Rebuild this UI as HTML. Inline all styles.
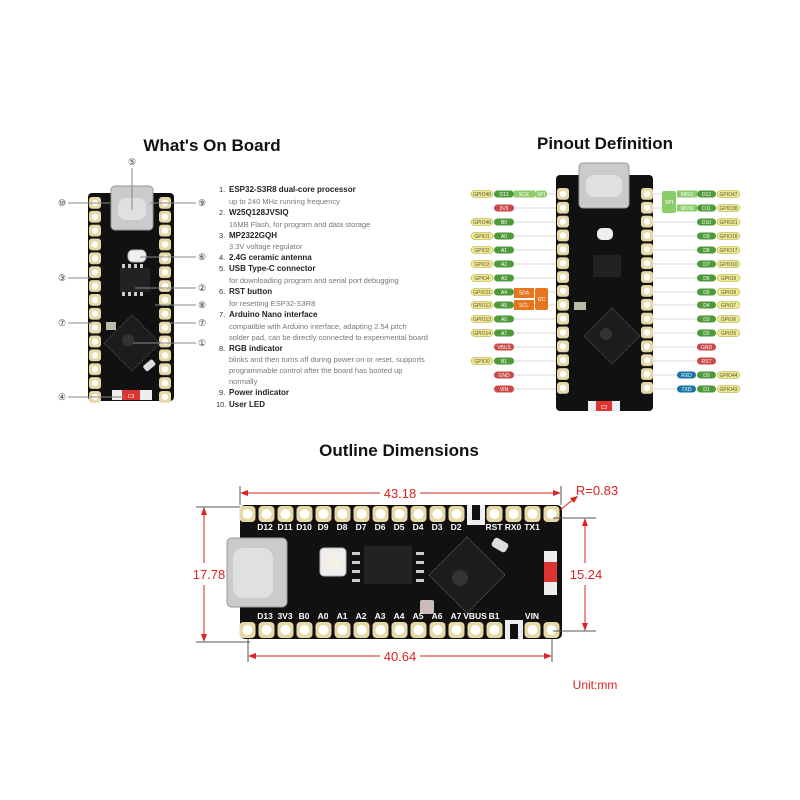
<!DOCTYPE html>
<html><head><meta charset="utf-8"><style>
html,body{margin:0;padding:0;background:#fff}
svg{display:block}
text{font-family:"Liberation Sans",sans-serif}
.t{font-size:17px;font-weight:bold;fill:#111;text-anchor:middle}
.l{font-size:7.5px;fill:#333}
.lb{font-size:8px;fill:#222;font-weight:bold}
.ls{font-size:7.5px;fill:#777}
.c{font-size:9px;fill:#333;text-anchor:middle}
.g{font-size:5px;fill:#555;text-anchor:middle}
.w{font-size:5px;fill:#fff;text-anchor:middle}
.dim{font-size:13px;fill:#d22;text-anchor:middle}
</style></head><body>
<svg width="800" height="800" viewBox="0 0 800 800" xmlns="http://www.w3.org/2000/svg">
<defs>
<pattern id="pv" x="88" y="196" width="14" height="13.86" patternUnits="userSpaceOnUse">
<rect x="1" y="1" width="12" height="11.8" rx="3" fill="#e6d9a6"/><circle cx="7" cy="6.9" r="3.2" fill="#fff"/></pattern>
<pattern id="pv2" x="556" y="187" width="14" height="13.86" patternUnits="userSpaceOnUse">
<rect x="1" y="1" width="12" height="11.8" rx="3" fill="#e6d9a6"/><circle cx="7" cy="6.9" r="3.2" fill="#fff"/></pattern>
<pattern id="ph" x="238" y="505" width="19" height="18" patternUnits="userSpaceOnUse">
<rect x="1.5" y="1" width="16" height="16" rx="4" fill="#e6d9a6"/><circle cx="9.5" cy="9" r="5" fill="#fff"/></pattern>
<pattern id="ph2" x="238" y="621" width="19" height="18" patternUnits="userSpaceOnUse">
<rect x="1.5" y="1" width="16" height="16" rx="4" fill="#e6d9a6"/><circle cx="9.5" cy="9" r="5" fill="#fff"/></pattern>
</defs>

<text class="t" x="212" y="151">What's On Board</text>
<text class="t" x="605" y="149">Pinout Definition</text>
<text class="t" x="399" y="456">Outline Dimensions</text>

<!-- Board 1 -->
<rect x="88" y="193" width="86" height="208" rx="4" fill="#111"/>
<rect x="88" y="196" width="14" height="208" fill="url(#pv)"/>
<rect x="158" y="196" width="14" height="208" fill="url(#pv)"/>
<rect x="111" y="186" width="42" height="44" rx="4" fill="#c9cbcd" stroke="#999"/>
<rect x="118" y="198" width="28" height="22" rx="8" fill="#dfe0e2"/>
<rect x="128" y="250" width="18" height="12" rx="5" fill="#eee" stroke="#bbb"/>
<rect x="120" y="268" width="30" height="24" fill="#222"/>
<g fill="#ccc"><rect x="122" y="264" width="3" height="4"/><rect x="128" y="264" width="3" height="4"/><rect x="134" y="264" width="3" height="4"/><rect x="140" y="264" width="3" height="4"/><rect x="122" y="292" width="3" height="4"/><rect x="128" y="292" width="3" height="4"/><rect x="134" y="292" width="3" height="4"/><rect x="140" y="292" width="3" height="4"/></g>
<rect x="106" y="322" width="10" height="8" fill="#bba" />
<polygon points="132,315 160,343 132,371 104,343" fill="#1c1c1c" stroke="#555" stroke-dasharray="1 1"/>
<circle cx="128" cy="340" r="6" fill="#333"/>
<rect x="143" y="362" width="12" height="7" rx="2" fill="#ddd" transform="rotate(-40 149 365)"/>
<rect x="112" y="390" width="40" height="10" fill="#eee"/>
<rect x="122" y="390" width="18" height="10" fill="#d33"/>
<text x="131" y="398" class="w" font-size="7">C3</text>
<g stroke="#888" stroke-width="1" fill="none">
<line x1="68" y1="203" x2="110" y2="203"/><line x1="68" y1="278" x2="90" y2="278"/><line x1="68" y1="323" x2="92" y2="323"/><line x1="68" y1="397" x2="125" y2="397"/>
<line x1="132" y1="168" x2="132" y2="210"/>
<line x1="150" y1="203" x2="196" y2="203"/><line x1="140" y1="257" x2="196" y2="257"/><line x1="135" y1="288" x2="196" y2="288"/><line x1="155" y1="305" x2="196" y2="305"/><line x1="170" y1="323" x2="196" y2="323"/><line x1="133" y1="343" x2="196" y2="343"/>
</g>
<g class="c">
<text x="62" y="206">⑩</text><text x="62" y="281">③</text><text x="62" y="326">⑦</text><text x="62" y="400">④</text>
<text x="132" y="165">⑤</text>
<text x="202" y="206">⑨</text><text x="202" y="260">⑥</text><text x="202" y="291">②</text><text x="202" y="308">⑧</text><text x="202" y="326">⑦</text><text x="202" y="346">①</text>
</g>
<g>
<text class="l" x="219" y="192">1.</text><text class="lb" x="229" y="192">ESP32-S3R8 dual-core processor</text>
<text class="ls" x="229" y="204">up to 240 MHz running frequency</text>
<text class="l" x="219" y="215">2.</text><text class="lb" x="229" y="215">W25Q128JVSIQ</text>
<text class="ls" x="229" y="227">16MB Flash, for program and data storage</text>
<text class="l" x="219" y="238">3.</text><text class="lb" x="229" y="238">MP2322GQH</text>
<text class="ls" x="229" y="249">3.3V voltage regulator</text>
<text class="l" x="219" y="260">4.</text><text class="lb" x="229" y="260">2.4G ceramic antenna</text>
<text class="l" x="219" y="271">5.</text><text class="lb" x="229" y="271">USB Type-C connector</text>
<text class="ls" x="229" y="283">for downloading program and serial port debugging</text>
<text class="l" x="219" y="294">6.</text><text class="lb" x="229" y="294">RST button</text>
<text class="ls" x="229" y="306">for resetting ESP32-S3R8</text>
<text class="l" x="219" y="317">7.</text><text class="lb" x="229" y="317">Arduino Nano interface</text>
<text class="ls" x="229" y="329">compatible with Arduino interface, adapting 2.54 pitch</text>
<text class="ls" x="229" y="340">solder pad, can be directly connected to experimental board</text>
<text class="l" x="219" y="351">8.</text><text class="lb" x="229" y="351">RGB indicator</text>
<text class="ls" x="229" y="362">blinks and then turns off during power on or reset, supports</text>
<text class="ls" x="229" y="373">programmable control after the board has booted up</text>
<text class="ls" x="229" y="384">normally</text>
<text class="l" x="219" y="395">9.</text><text class="lb" x="229" y="395">Power indicator</text>
<text class="l" x="216" y="407">10.</text><text class="lb" x="229" y="407">User LED</text>
</g>

<!-- Board 2 -->
<g stroke="#ccc" stroke-width="0.8">
<line x1="493" y1="194" x2="557" y2="194"/><line x1="493" y1="208" x2="557" y2="208"/><line x1="493" y1="222" x2="557" y2="222"/><line x1="493" y1="236" x2="557" y2="236"/><line x1="493" y1="250" x2="557" y2="250"/><line x1="493" y1="264" x2="557" y2="264"/><line x1="493" y1="278" x2="557" y2="278"/><line x1="493" y1="292" x2="557" y2="292"/><line x1="493" y1="305" x2="557" y2="305"/><line x1="493" y1="319" x2="557" y2="319"/><line x1="493" y1="333" x2="557" y2="333"/><line x1="493" y1="347" x2="557" y2="347"/><line x1="493" y1="361" x2="557" y2="361"/><line x1="493" y1="375" x2="557" y2="375"/><line x1="493" y1="389" x2="557" y2="389"/>
<line x1="650" y1="194" x2="700" y2="194"/><line x1="650" y1="208" x2="700" y2="208"/><line x1="650" y1="222" x2="700" y2="222"/><line x1="650" y1="236" x2="700" y2="236"/><line x1="650" y1="250" x2="700" y2="250"/><line x1="650" y1="264" x2="700" y2="264"/><line x1="650" y1="278" x2="700" y2="278"/><line x1="650" y1="292" x2="700" y2="292"/><line x1="650" y1="305" x2="700" y2="305"/><line x1="650" y1="319" x2="700" y2="319"/><line x1="650" y1="333" x2="700" y2="333"/><line x1="650" y1="347" x2="700" y2="347"/><line x1="650" y1="361" x2="700" y2="361"/><line x1="650" y1="375" x2="700" y2="375"/><line x1="650" y1="389" x2="700" y2="389"/>
</g>
<rect x="556" y="175" width="97" height="236" rx="4" fill="#111"/>
<rect x="556" y="187" width="14" height="208" fill="url(#pv2)"/>
<rect x="640" y="187" width="14" height="208" fill="url(#pv2)"/>
<rect x="579" y="163" width="50" height="45" rx="4" fill="#c9cbcd" stroke="#999"/>
<rect x="586" y="175" width="36" height="22" rx="8" fill="#dfe0e2"/>
<rect x="597" y="228" width="16" height="12" rx="5" fill="#eee"/>
<rect x="593" y="255" width="28" height="22" fill="#222"/>
<polygon points="612,308 640,336 612,364 584,336" fill="#1c1c1c" stroke="#555" stroke-dasharray="1 1"/>
<circle cx="606" cy="334" r="6" fill="#333"/>
<rect x="574" y="302" width="12" height="8" fill="#bba"/>
<rect x="588" y="401" width="32" height="10" fill="#eee"/><rect x="596" y="401" width="16" height="10" fill="#d33"/>
<text x="604" y="409" class="w" font-size="7">C3</text>
<g font-size="5">
<rect x="471" y="190.5" width="22" height="7" rx="3.5" fill="#f0ea8a" stroke="#a8a040" stroke-width=".5"/><text x="482" y="196" class="g">GPIO48</text>
<rect x="494" y="190.5" width="20" height="7" rx="3.5" fill="#4e9a3a"/><text x="504" y="196" class="w">D13</text>
<rect x="514" y="190.5" width="21" height="7" fill="#8ccc6a"/><text x="524" y="196" class="w">SCK</text>
<rect x="535" y="190.5" width="12" height="7" rx="3" fill="#8ccc6a"/><text x="541" y="196" class="w">SPI</text>
<rect x="494" y="204.5" width="20" height="7" rx="3.5" fill="#c94848"/><text x="504" y="210" class="w">3V3</text>
<rect x="471" y="218.5" width="22" height="7" rx="3.5" fill="#f0ea8a" stroke="#a8a040" stroke-width=".5"/><text x="482" y="224" class="g">GPIO46</text>
<rect x="494" y="218.5" width="20" height="7" rx="3.5" fill="#4e9a3a"/><text x="504" y="224" class="w">B0</text>
<rect x="471" y="232.5" width="22" height="7" rx="3.5" fill="#f0ea8a" stroke="#a8a040" stroke-width=".5"/><text x="482" y="238" class="g">GPIO1</text>
<rect x="494" y="232.5" width="20" height="7" rx="3.5" fill="#4e9a3a"/><text x="504" y="238" class="w">A0</text>
<rect x="471" y="246.5" width="22" height="7" rx="3.5" fill="#f0ea8a" stroke="#a8a040" stroke-width=".5"/><text x="482" y="252" class="g">GPIO2</text>
<rect x="494" y="246.5" width="20" height="7" rx="3.5" fill="#4e9a3a"/><text x="504" y="252" class="w">A1</text>
<rect x="471" y="260.5" width="22" height="7" rx="3.5" fill="#f0ea8a" stroke="#a8a040" stroke-width=".5"/><text x="482" y="266" class="g">GPIO3</text>
<rect x="494" y="260.5" width="20" height="7" rx="3.5" fill="#4e9a3a"/><text x="504" y="266" class="w">A2</text>
<rect x="471" y="274.5" width="22" height="7" rx="3.5" fill="#f0ea8a" stroke="#a8a040" stroke-width=".5"/><text x="482" y="280" class="g">GPIO4</text>
<rect x="494" y="274.5" width="20" height="7" rx="3.5" fill="#4e9a3a"/><text x="504" y="280" class="w">A3</text>
<rect x="471" y="288.5" width="22" height="7" rx="3.5" fill="#f0ea8a" stroke="#a8a040" stroke-width=".5"/><text x="482" y="294" class="g">GPIO11</text>
<rect x="494" y="288.5" width="20" height="7" rx="3.5" fill="#4e9a3a"/><text x="504" y="294" class="w">A4</text>
<rect x="471" y="301.5" width="22" height="7" rx="3.5" fill="#f0ea8a" stroke="#a8a040" stroke-width=".5"/><text x="482" y="307" class="g">GPIO12</text>
<rect x="494" y="301.5" width="20" height="7" rx="3.5" fill="#4e9a3a"/><text x="504" y="307" class="w">A5</text>
<rect x="514" y="288" width="20" height="10" fill="#e8741e"/><text x="524" y="294.5" class="w">SDA</text>
<rect x="514" y="300" width="20" height="10" fill="#e8741e"/><text x="524" y="307" class="w">SCL</text>
<rect x="535" y="288" width="13" height="22" rx="2" fill="#e8741e"/><text x="541.5" y="301" class="w">I2C</text>
<rect x="471" y="315.5" width="22" height="7" rx="3.5" fill="#f0ea8a" stroke="#a8a040" stroke-width=".5"/><text x="482" y="321" class="g">GPIO13</text>
<rect x="494" y="315.5" width="20" height="7" rx="3.5" fill="#4e9a3a"/><text x="504" y="321" class="w">A6</text>
<rect x="471" y="329.5" width="22" height="7" rx="3.5" fill="#f0ea8a" stroke="#a8a040" stroke-width=".5"/><text x="482" y="335" class="g">GPIO14</text>
<rect x="494" y="329.5" width="20" height="7" rx="3.5" fill="#4e9a3a"/><text x="504" y="335" class="w">A7</text>
<rect x="494" y="343.5" width="20" height="7" rx="3.5" fill="#c94848"/><text x="504" y="349" class="w">VBUS</text>
<rect x="471" y="357.5" width="22" height="7" rx="3.5" fill="#f0ea8a" stroke="#a8a040" stroke-width=".5"/><text x="482" y="363" class="g">GPIO0</text>
<rect x="494" y="357.5" width="20" height="7" rx="3.5" fill="#4e9a3a"/><text x="504" y="363" class="w">B1</text>
<rect x="494" y="371.5" width="20" height="7" rx="3.5" fill="#c94848"/><text x="504" y="377" class="w">GND</text>
<rect x="494" y="385.5" width="20" height="7" rx="3.5" fill="#c94848"/><text x="504" y="391" class="w">VIN</text>
<rect x="662" y="191" width="14" height="22" rx="2" fill="#8ccc6a"/><text x="669" y="204" class="w">SPI</text>
<rect x="677" y="190.5" width="20" height="7" fill="#8ccc6a"/><text x="687" y="196" class="w">MISO</text>
<rect x="677" y="204.5" width="20" height="7" fill="#8ccc6a"/><text x="687" y="210" class="w">MOSI</text>
<rect x="697" y="190.5" width="19" height="7" rx="3.5" fill="#4e9a3a"/><text x="706.5" y="196" class="w">D12</text>
<rect x="717" y="190.5" width="23" height="7" rx="3.5" fill="#f0ea8a" stroke="#a8a040" stroke-width=".5"/><text x="728.5" y="196" class="g">GPIO47</text>
<rect x="697" y="204.5" width="19" height="7" rx="3.5" fill="#4e9a3a"/><text x="706.5" y="210" class="w">D11</text>
<rect x="717" y="204.5" width="23" height="7" rx="3.5" fill="#f0ea8a" stroke="#a8a040" stroke-width=".5"/><text x="728.5" y="210" class="g">GPIO38</text>
<rect x="697" y="218.5" width="19" height="7" rx="3.5" fill="#4e9a3a"/><text x="706.5" y="224" class="w">D10</text>
<rect x="717" y="218.5" width="23" height="7" rx="3.5" fill="#f0ea8a" stroke="#a8a040" stroke-width=".5"/><text x="728.5" y="224" class="g">GPIO21</text>
<rect x="697" y="232.5" width="19" height="7" rx="3.5" fill="#4e9a3a"/><text x="706.5" y="238" class="w">D9</text>
<rect x="717" y="232.5" width="23" height="7" rx="3.5" fill="#f0ea8a" stroke="#a8a040" stroke-width=".5"/><text x="728.5" y="238" class="g">GPIO18</text>
<rect x="697" y="246.5" width="19" height="7" rx="3.5" fill="#4e9a3a"/><text x="706.5" y="252" class="w">D8</text>
<rect x="717" y="246.5" width="23" height="7" rx="3.5" fill="#f0ea8a" stroke="#a8a040" stroke-width=".5"/><text x="728.5" y="252" class="g">GPIO17</text>
<rect x="697" y="260.5" width="19" height="7" rx="3.5" fill="#4e9a3a"/><text x="706.5" y="266" class="w">D7</text>
<rect x="717" y="260.5" width="23" height="7" rx="3.5" fill="#f0ea8a" stroke="#a8a040" stroke-width=".5"/><text x="728.5" y="266" class="g">GPIO10</text>
<rect x="697" y="274.5" width="19" height="7" rx="3.5" fill="#4e9a3a"/><text x="706.5" y="280" class="w">D6</text>
<rect x="717" y="274.5" width="23" height="7" rx="3.5" fill="#f0ea8a" stroke="#a8a040" stroke-width=".5"/><text x="728.5" y="280" class="g">GPIO9</text>
<rect x="697" y="288.5" width="19" height="7" rx="3.5" fill="#4e9a3a"/><text x="706.5" y="294" class="w">D5</text>
<rect x="717" y="288.5" width="23" height="7" rx="3.5" fill="#f0ea8a" stroke="#a8a040" stroke-width=".5"/><text x="728.5" y="294" class="g">GPIO8</text>
<rect x="697" y="301.5" width="19" height="7" rx="3.5" fill="#4e9a3a"/><text x="706.5" y="307" class="w">D4</text>
<rect x="717" y="301.5" width="23" height="7" rx="3.5" fill="#f0ea8a" stroke="#a8a040" stroke-width=".5"/><text x="728.5" y="307" class="g">GPIO7</text>
<rect x="697" y="315.5" width="19" height="7" rx="3.5" fill="#4e9a3a"/><text x="706.5" y="321" class="w">D3</text>
<rect x="717" y="315.5" width="23" height="7" rx="3.5" fill="#f0ea8a" stroke="#a8a040" stroke-width=".5"/><text x="728.5" y="321" class="g">GPIO6</text>
<rect x="697" y="329.5" width="19" height="7" rx="3.5" fill="#4e9a3a"/><text x="706.5" y="335" class="w">D2</text>
<rect x="717" y="329.5" width="23" height="7" rx="3.5" fill="#f0ea8a" stroke="#a8a040" stroke-width=".5"/><text x="728.5" y="335" class="g">GPIO5</text>
<rect x="697" y="343.5" width="19" height="7" rx="3.5" fill="#c94848"/><text x="706.5" y="349" class="w">GND</text>
<rect x="697" y="357.5" width="19" height="7" rx="3.5" fill="#c94848"/><text x="706.5" y="363" class="w">RST</text>
<rect x="677" y="371.5" width="19" height="7" rx="3.5" fill="#1a74a8"/><text x="686.5" y="377" class="w">RXD</text>
<rect x="697" y="371.5" width="19" height="7" rx="3.5" fill="#4e9a3a"/><text x="706.5" y="377" class="w">D0</text>
<rect x="717" y="371.5" width="23" height="7" rx="3.5" fill="#f0ea8a" stroke="#a8a040" stroke-width=".5"/><text x="728.5" y="377" class="g">GPIO44</text>
<rect x="677" y="385.5" width="19" height="7" rx="3.5" fill="#1a74a8"/><text x="686.5" y="391" class="w">TXD</text>
<rect x="697" y="385.5" width="19" height="7" rx="3.5" fill="#4e9a3a"/><text x="706.5" y="391" class="w">D1</text>
<rect x="717" y="385.5" width="23" height="7" rx="3.5" fill="#f0ea8a" stroke="#a8a040" stroke-width=".5"/><text x="728.5" y="391" class="g">GPIO43</text>
</g>

<!-- Board 3 -->
<rect x="240" y="505" width="322" height="134" rx="5" fill="#111"/>
<rect x="238" y="505" width="323" height="18" fill="url(#ph)"/>
<rect x="238" y="621" width="323" height="18" fill="url(#ph2)"/>
<rect x="227" y="538" width="60" height="69" rx="5" fill="#c9cbcd" stroke="#999"/>
<rect x="233" y="548" width="40" height="50" rx="10" fill="#dfe0e2"/>
<rect x="320" y="548" width="26" height="28" rx="4" fill="#eee" stroke="#bbb"/>
<ellipse cx="333" cy="562" rx="8" ry="9" fill="#f4f0e6"/>
<rect x="364" y="546" width="48" height="38" fill="#222"/>
<g fill="#ccc"><rect x="352" y="552" width="8" height="3"/><rect x="352" y="561" width="8" height="3"/><rect x="352" y="570" width="8" height="3"/><rect x="352" y="579" width="8" height="3"/><rect x="416" y="552" width="8" height="3"/><rect x="416" y="561" width="8" height="3"/><rect x="416" y="570" width="8" height="3"/><rect x="416" y="579" width="8" height="3"/></g>
<polygon points="467,537 505,575 467,613 429,575" fill="#1c1c1c" stroke="#666" stroke-dasharray="1 1"/>
<circle cx="460" cy="578" r="8" fill="#333"/>
<rect x="420" y="600" width="14" height="14" rx="2" fill="#cbb"/>
<rect x="492" y="540" width="16" height="10" rx="3" fill="#ddd" transform="rotate(30 500 545)"/>
<rect x="544" y="551" width="13" height="44" fill="#eee"/><rect x="544" y="562" width="13" height="20" fill="#d33"/>
<rect x="467" y="505" width="18" height="20" fill="#eee"/><rect x="472" y="505" width="8" height="15" fill="#111"/>
<rect x="505" y="620" width="18" height="19" fill="#eee"/><rect x="510" y="624" width="8" height="15" fill="#111"/>
<g font-size="8.5" fill="#fff" font-weight="bold" text-anchor="middle">
<text x="265" y="530">D12</text><text x="285" y="530">D11</text><text x="304" y="530">D10</text><text x="323" y="530">D9</text><text x="342" y="530">D8</text><text x="361" y="530">D7</text><text x="380" y="530">D6</text><text x="399" y="530">D5</text><text x="418" y="530">D4</text><text x="437" y="530">D3</text><text x="456" y="530">D2</text><text x="494" y="530">RST</text><text x="513" y="530">RX0</text><text x="532" y="530">TX1</text>
<text x="265" y="619">D13</text><text x="285" y="619">3V3</text><text x="304" y="619">B0</text><text x="323" y="619">A0</text><text x="342" y="619">A1</text><text x="361" y="619">A2</text><text x="380" y="619">A3</text><text x="399" y="619">A4</text><text x="418" y="619">A5</text><text x="437" y="619">A6</text><text x="456" y="619">A7</text><text x="475" y="619">VBUS</text><text x="494" y="619">B1</text><text x="532" y="619">VIN</text>
</g>
<g stroke="#d22" stroke-width="1" fill="#d22">
<line x1="240" y1="486" x2="240" y2="505" stroke="#555"/><line x1="561" y1="486" x2="561" y2="505" stroke="#555"/>
<line x1="243" y1="493" x2="380" y2="493"/><line x1="420" y1="493" x2="558" y2="493"/>
<polygon points="240,493 248,490 248,496" stroke="none"/><polygon points="561,493 553,490 553,496" stroke="none"/>
<line x1="248" y1="639" x2="248" y2="662" stroke="#555"/><line x1="552" y1="639" x2="552" y2="662" stroke="#555"/>
<line x1="251" y1="656" x2="380" y2="656"/><line x1="420" y1="656" x2="549" y2="656"/>
<polygon points="248,656 256,653 256,659" stroke="none"/><polygon points="552,656 544,653 544,659" stroke="none"/>
<line x1="196" y1="507" x2="240" y2="507" stroke="#555"/><line x1="196" y1="642" x2="250" y2="642" stroke="#555"/>
<line x1="204" y1="510" x2="204" y2="563"/><line x1="204" y1="585" x2="204" y2="639"/>
<polygon points="204,507 201,515 207,515" stroke="none"/><polygon points="204,642 201,634 207,634" stroke="none"/>
<line x1="553" y1="518" x2="596" y2="518" stroke="#555"/><line x1="553" y1="631" x2="596" y2="631" stroke="#555"/>
<line x1="585" y1="521" x2="585" y2="563"/><line x1="585" y1="585" x2="585" y2="628"/>
<polygon points="585,518 582,526 588,526" stroke="none"/><polygon points="585,631 582,623 588,623" stroke="none"/>
<line x1="560" y1="510" x2="575" y2="498"/><polygon points="578,496 570,498 574,503" stroke="none"/>
</g>
<g class="dim">
<text x="400" y="498">43.18</text><text x="400" y="661">40.64</text>
<text x="209" y="579">17.78</text><text x="586" y="579">15.24</text>
<text x="597" y="495">R=0.83</text>
<text x="595" y="689" font-size="12">Unit:mm</text>
</g>
</svg>
</body></html>
